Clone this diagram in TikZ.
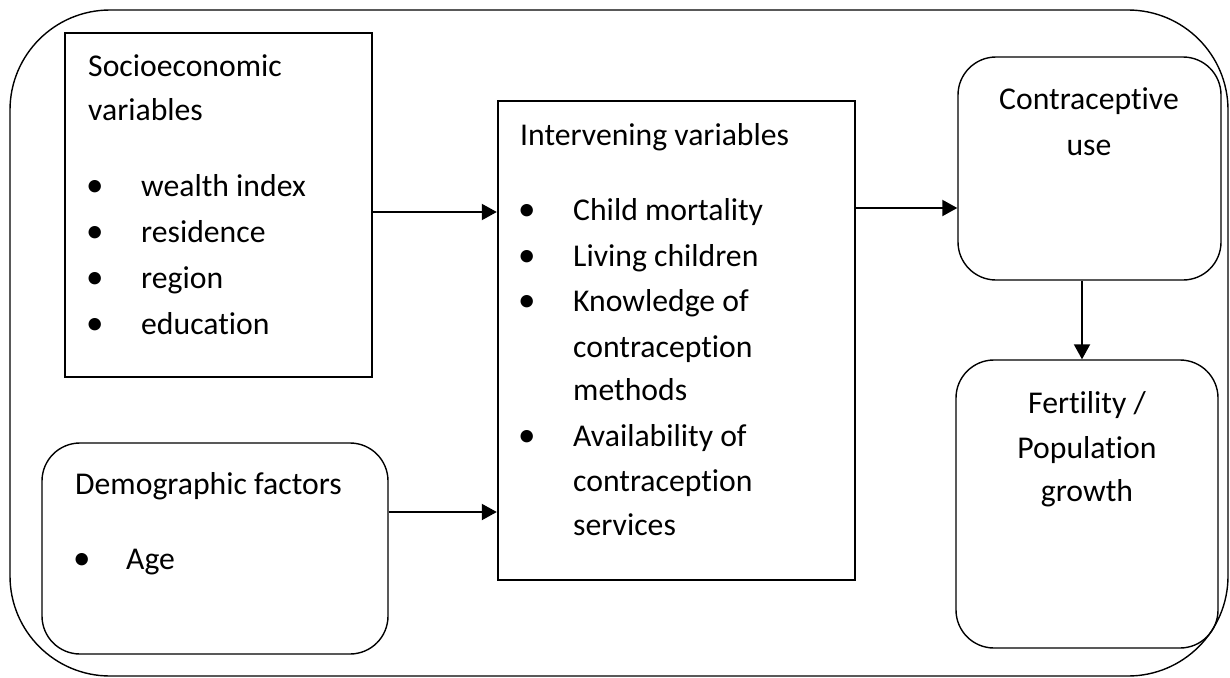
\documentclass[tikz,border=0pt]{standalone}
\usepackage{fontspec}
\setmainfont{Carlito}[Ligatures={NoCommon,NoContextual}]
\usetikzlibrary{arrows.meta}
\begin{document}
\begin{tikzpicture}[x=1pt,y=-1pt,
  sharpbox/.style={draw,line width=2.4pt,inner sep=0pt},
  roundbox/.style={draw,line width=1.4pt,rounded corners=38pt,inner sep=0pt},
  txt/.style={anchor=base west,inner sep=0pt,font=\fontsize{31.7}{38}\selectfont},
  ctxt/.style={anchor=base,inner sep=0pt,font=\fontsize{31.7}{38}\selectfont},
  arr/.style={line width=2pt,-{Triangle[length=15pt,width=16pt]}}]
\useasboundingbox (0,0) rectangle (1230,677);
% outer frame
\node[draw,line width=1.4pt,rounded corners=100pt,inner sep=0pt,minimum width=1218pt,minimum height=666pt] (frame) at (619,343) {};
% boxes
\node[sharpbox,minimum width=307pt,minimum height=344pt] (socio) at (218.5,205) {};
\node[roundbox,minimum width=346pt,minimum height=211pt] (demo) at (215,548.5) {};
\node[sharpbox,minimum width=357pt,minimum height=479pt] (inter) at (676.5,340.5) {};
\node[roundbox,minimum width=263pt,minimum height=223pt] (contra) at (1089.5,168.5) {};
\node[roundbox,minimum width=262pt,minimum height=288pt] (fert) at (1087,504) {};
% socioeconomic text
\node[txt] (s1) at (88,76) {Socioeconomic};
\node[txt] (s2) at (88,120) {variables};
\foreach \y/\t [count=\i] in {196/wealth index,242/residence,288/region,334/education}{
  \node[txt] (sb\i) at (86,\y) {\fontsize{35}{38}\selectfont •};
  \node[txt] (st\i) at (141,\y) {\t};
}
% demographic text
\node[txt] (d1) at (75,494) {Demographic factors};
\node[txt] (db1) at (73,569) {\fontsize{35}{38}\selectfont •};
\node[txt] (dt1) at (126,569) {Age};
% intervening text
\node[txt] (i0) at (520,145) {Intervening variables};
\foreach \y/\t [count=\i] in {220/Child mortality,266/Living children,311/Knowledge of,357/contraception,400/methods,446/Availability of,491/contraception,535/services}{
  \node[txt] (it\i) at (573,\y) {\t};
}
\foreach \y [count=\i] in {220,266,311,446}{
  \node[txt] (ib\i) at (518,\y) {\fontsize{35}{38}\selectfont •};
}
% right boxes text
\node[ctxt] (c1) at (1089,109) {Contraceptive};
\node[ctxt] (c2) at (1089,155) {use};
\node[ctxt] (f1) at (1087,413) {Fertility /};
\node[ctxt] (f2) at (1087,458) {Population};
\node[ctxt] (f3) at (1087,501) {growth};
% arrows
\draw[arr] (socio.east |- 0,212) -- (inter.west |- 0,212);
\draw[arr] (demo.east |- 0,512) -- (inter.west |- 0,512);
\draw[arr] (inter.east |- 0,208) -- (contra.west |- 0,208);
\draw[arr] (contra.south -| 1082,0) -- (fert.north -| 1082,0);
\end{tikzpicture}
\end{document}
